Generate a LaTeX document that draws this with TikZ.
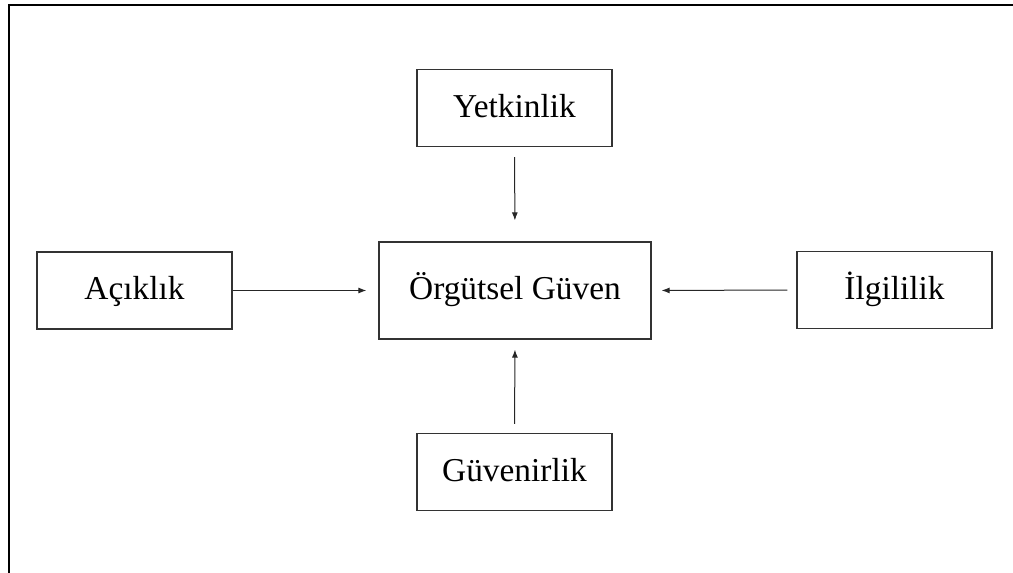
\documentclass[tikz,border=0pt]{standalone}
\usepackage{fontspec}
\setmainfont{Liberation Serif}
\usetikzlibrary{arrows.meta}
\begin{document}
\begin{tikzpicture}[x=1bp,y=-1bp,
  box/.style={draw=black!80, line width=1.2bp, inner sep=0pt,
    minimum width=195bp, minimum height=77bp,
    font=\fontsize{33.5}{40}\selectfont,
    text height=25.5bp, text depth=6.5bp},
  link/.style={draw=black!85, line width=1bp,
    -{Latex[length=8bp,width=6bp]}}]
  \useasboundingbox (0,0) rectangle (1013,573);
  % open frame: top and left edges only
  \draw[line width=2bp] (1013,5) -- (9,5) -- (9,573);

  \node[box] (yet) at (514.5,108) {Yetkinlik};
  \node[box, minimum width=272bp, minimum height=97bp] (org) at (515,290.5) {Örgütsel Güven};
  \node[box] (aci) at (134.5,290.5) {Açıklık};
  \node[box] (ilg) at (894.5,290) {İlgililik};
  \node[box] (guv) at (514.5,472) {Güvenirlik};

  \draw[link, shorten <=10bp, shorten >=21bp] (yet.south) -- (org.north);
  \draw[link, shorten <=9bp, shorten >=10bp] (guv.north) -- (org.south);
  \draw[link, shorten >=12bp] (aci.east) -- (org.west);
  \draw[link, shorten <=9bp, shorten >=10bp] (ilg.west) -- (org.east);
\end{tikzpicture}
\end{document}
